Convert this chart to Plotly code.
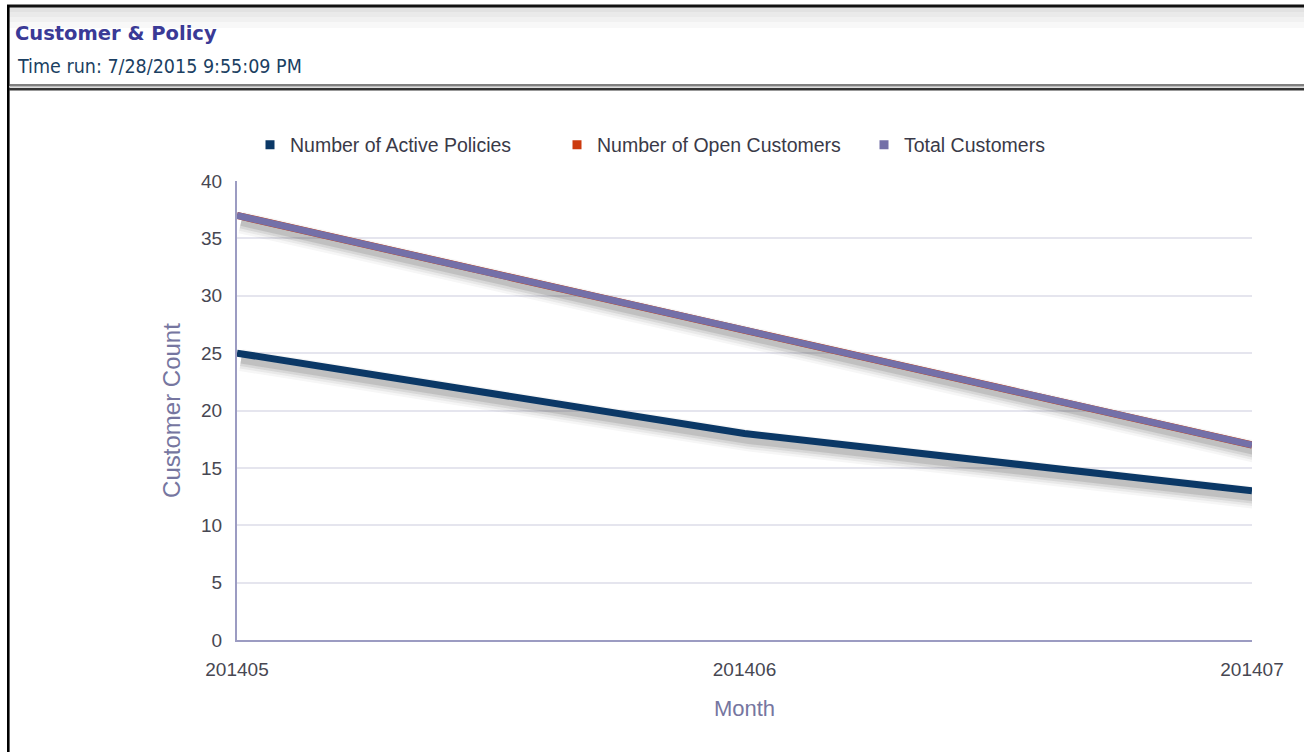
import plotly.graph_objects as go

# ---- data ----
months = ["201405", "201406", "201407"]
active_policies = [25, 18, 13]
open_customers = [37, 27, 17]
total_customers = [37, 27, 17]
y_ticks = [0, 5, 10, 15, 20, 25, 30, 35, 40]

title_text = "Customer & Policy"
subtitle_text = "Time run: 7/28/2015 9:55:09 PM"

# ---- layout geometry (pixels) ----
W, H = 1304, 752
L, R, T, B = 237, 1252, 181, 640
PW, PH = R - L, B - T


def X(px):
    return (px - L) / PW


def Y(py):
    return (B - py) / PH


NAVY = "#0b3866"
ORANGE = "#cc3a0e"
PURPLE = "#7470a8"
AXIS_COL = "#9c9cc2"
GRID_COL = "#e5e5ee"
TICK_COL = "#474752"
TITLE_COL = "#7676a0"

fig = go.Figure()

# shadow offset via shifted ranges on the base axes
shift_y = 7 / (PH / 40)
shift_x = 4 / (PW / 2)

for series in (active_policies, total_customers):
    for w, a in ((22, 0.04), (17, 0.06), (12, 0.09), (7, 0.12)):
        fig.add_trace(go.Scatter(
            x=months, y=series, mode="lines", xaxis="x", yaxis="y",
            line=dict(color=f"rgba(30,30,30,{a})", width=w),
            showlegend=False, hoverinfo="skip"))

# real lines on the overlay axes
fig.add_trace(go.Scatter(x=months, y=active_policies, mode="lines", xaxis="x2", yaxis="y2",
                         line=dict(color=NAVY, width=7), showlegend=False,
                         name="Number of Active Policies"))
fig.add_trace(go.Scatter(x=months, y=open_customers, mode="lines", xaxis="x2", yaxis="y2",
                         line=dict(color=ORANGE, width=7.2), showlegend=False,
                         name="Number of Open Customers"))
fig.add_trace(go.Scatter(x=months, y=total_customers, mode="lines", xaxis="x2", yaxis="y2",
                         line=dict(color=PURPLE, width=6.8), showlegend=False,
                         name="Total Customers"))

# legend entries
for name, col in (("Number of Active Policies", NAVY),
                  ("Number of Open Customers", ORANGE),
                  ("Total Customers", PURPLE)):
    fig.add_trace(go.Scatter(x=[None], y=[None], mode="markers", xaxis="x2", yaxis="y2",
                             marker=dict(symbol="square", size=9, color=col),
                             name=name, showlegend=True))

font_main = "Liberation Sans, Arial, sans-serif"

fig.update_layout(
    width=W, height=H,
    margin=dict(l=L, r=W - R, t=T, b=H - B, pad=0),
    paper_bgcolor="white", plot_bgcolor="white",
    font=dict(family=font_main, color=TICK_COL, size=18),
    showlegend=True,
    legend=dict(orientation="h", x=X(250), y=Y(145), xanchor="left", yanchor="middle",
                font=dict(size=19.5, color="#3a3a48", family=font_main),
                entrywidth=262, entrywidthmode="pixels",
                bgcolor="rgba(0,0,0,0)", itemclick=False),
    xaxis=dict(type="category", range=[-shift_x, 2 - shift_x], visible=False,
               fixedrange=True),
    yaxis=dict(range=[shift_y, 40 + shift_y], visible=False, fixedrange=True),
    xaxis2=dict(type="category", overlaying="x", side="bottom", range=[0, 2],
                showgrid=False, showline=True, linecolor=AXIS_COL, linewidth=2,
                ticks="", ticklabelstandoff=11,
                tickfont=dict(size=19, color=TICK_COL),
                title=dict(text="Month", font=dict(size=22, color=TITLE_COL), standoff=22),
                zeroline=False),
    yaxis2=dict(overlaying="y", side="left", range=[0, 40], tickvals=y_ticks,
                showgrid=True, gridcolor=GRID_COL, gridwidth=2,
                showline=True, linecolor=AXIS_COL, linewidth=2,
                ticks="", ticklabelstandoff=9,
                tickfont=dict(size=19, color=TICK_COL),
                title=dict(text="Customer Count", font=dict(size=24, color=TITLE_COL), standoff=14),
                zeroline=False),
)

shapes = []
# header gradient
grads = [(7, 12, "#e2e2e2"), (12, 17, "#eaeaea"), (17, 22, "#f1f1f1"), (22, 28, "#f8f8f8")]
for y0, y1, c in grads:
    shapes.append(dict(type="rect", xref="paper", yref="paper", x0=X(9), x1=X(W),
                       y0=Y(y1), y1=Y(y0), fillcolor=c, line=dict(width=0), layer="below"))
# frame lines
shapes.append(dict(type="line", xref="paper", yref="paper", x0=X(7), x1=X(W),
                   y0=Y(6), y1=Y(6), line=dict(color="#111111", width=3)))
shapes.append(dict(type="line", xref="paper", yref="paper", x0=X(8.3), x1=X(8.3),
                   y0=Y(5), y1=Y(H), line=dict(color="#000000", width=2.6)))
# double separator line
shapes.append(dict(type="line", xref="paper", yref="paper", x0=X(9), x1=X(W),
                   y0=Y(85), y1=Y(85), line=dict(color="#555555", width=1.6)))
shapes.append(dict(type="line", xref="paper", yref="paper", x0=X(9), x1=X(W),
                   y0=Y(86.8), y1=Y(86.8), line=dict(color="#bbbbbb", width=1.4)))
shapes.append(dict(type="line", xref="paper", yref="paper", x0=X(9), x1=X(W),
                   y0=Y(89.2), y1=Y(89.2), line=dict(color="#333333", width=2.6)))
fig.update_layout(shapes=shapes)

fig.add_annotation(xref="paper", yref="paper", x=X(13), y=Y(33), xanchor="left", yanchor="middle",
                   text=f"<b>{title_text}</b>", showarrow=False,
                   font=dict(family="DejaVu Sans, sans-serif", size=19.5, color="#3a3a96"))
fig.add_annotation(xref="paper", yref="paper", x=X(15), y=Y(66), xanchor="left", yanchor="middle",
                   text=subtitle_text, showarrow=False,
                   font=dict(family="DejaVu Sans Condensed, DejaVu Sans, sans-serif",
                             size=19.5, color="#1b3f62"))

fig.write_html("out.html", config={"displayModeBar": False},
               post_script="document.body.style.margin='0';")
